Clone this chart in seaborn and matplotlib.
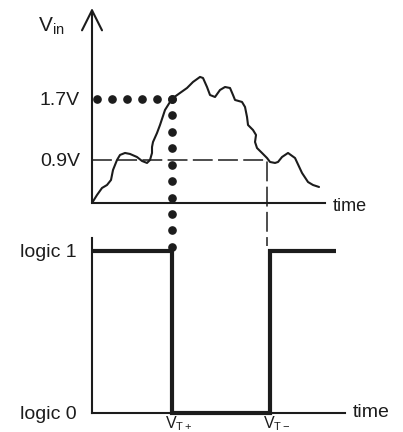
import numpy as np
import pandas as pd
import seaborn as sns
import matplotlib
matplotlib.use('Agg')
import matplotlib.pyplot as plt

# noisy input signal (time in arbitrary units, volts)
time_in = [0.0, 0.5, 1.0, 1.5, 1.9, 2.1, 2.5, 2.8, 3.3, 3.8, 4.5, 5.0, 5.5, 5.8,
           6.0, 6.0, 6.1, 6.5, 6.8, 7.3, 7.8, 8.1, 8.8, 9.5, 10.1, 10.8, 11.1,
           11.5, 11.8, 12.3, 12.8, 13.3, 13.8, 14.1, 14.3, 15.0, 15.3, 15.5,
           15.6, 16.1, 16.4, 16.3, 16.5, 17.0, 17.5, 17.8, 18.3, 18.6, 19.0,
           19.6, 20.3, 21.0, 21.6, 22.1, 22.7]
v_in = [0.336, 0.441, 0.533, 0.572, 0.638, 0.769, 0.900, 0.966, 0.992, 0.979,
        0.939, 0.887, 0.861, 0.900, 0.992, 1.070, 1.136, 1.254, 1.359, 1.556,
        1.661, 1.713, 1.779, 1.844, 1.923, 1.989, 1.975, 1.857, 1.752, 1.726,
        1.818, 1.857, 1.844, 1.752, 1.687, 1.661, 1.595, 1.464, 1.359, 1.293,
        1.228, 1.136, 1.057, 0.992, 0.926, 0.874, 0.861, 0.874, 0.939, 0.992,
        0.926, 0.730, 0.611, 0.572, 0.546]

# thresholds and switching points
v_hi, v_lo = 1.7, 0.9
t_up, t_dn = 8.0, 17.5
threshold_ticks = [v_lo, v_hi]
threshold_labels = ['0.9V', '1.7V']

# output logic levels
out_t = [0.0, 8.0, 8.0, 17.8, 17.8, 24.4]
out_level = [1, 1, 0, 0, 1, 1]
logic_ticks = [0, 1]
logic_labels = ['logic 0', 'logic 1']
vt_labels = [r'$\mathrm{V_{T+}}$', r'$\mathrm{V_{T-}}$']

sns.set_style('white')
plt.rcParams['font.family'] = ['Liberation Sans', 'DejaVu Sans']
plt.rcParams['mathtext.fontset'] = 'custom'
plt.rcParams['mathtext.rm'] = 'Liberation Sans'
plt.rcParams['mathtext.it'] = 'Liberation Sans:italic'
ink = '#1c1c1c'

fig = plt.figure(figsize=(4.03, 4.32), dpi=100)
fig.patch.set_facecolor('white')

# ---------------- input voltage
ax1 = fig.add_axes([0.2283, 0.5301, 0.5782, 0.4514])
ax1.set_facecolor('none')
df_in = pd.DataFrame({'t': time_in, 'v': v_in})
sns.lineplot(data=df_in, x='t', y='v', sort=False, estimator=None,
             color=ink, lw=1.5, ax=ax1)
ax1.set_xlim(0, 23.3)
ax1.set_ylim(0.336, 2.893)
for s in ['top', 'right', 'left']:
    ax1.spines[s].set_visible(False)
ax1.spines['bottom'].set_color(ink)
ax1.spines['bottom'].set_linewidth(1.5)
ax1.annotate('', xy=(0, 1), xytext=(0, 0), xycoords='axes fraction',
             arrowprops=dict(arrowstyle='->,head_length=0.72,head_width=0.36',
                             lw=1.5, color=ink, mutation_scale=20,
                             shrinkA=0, shrinkB=0))

# dotted upper threshold, running down into the output panel
dots_h = np.linspace(0.5, t_up, 6)
dots_v = np.linspace(v_hi, v_hi - 1.94, 10)
ax1.plot(dots_h, [v_hi] * len(dots_h), 'o', color=ink, ms=5.2, clip_on=False)
ax1.plot([t_up] * len(dots_v), dots_v, 'o', color=ink, ms=5.2, clip_on=False)

# dashed lower threshold
ax1.plot([0, t_dn, t_dn], [v_lo, v_lo, v_lo - 1.128], color=ink, lw=1.1,
         dashes=(13, 3.5), clip_on=False)

ax1.set_xticks([])
ax1.set_yticks(threshold_ticks, threshold_labels)
ax1.tick_params(axis='y', length=0, pad=8.6, labelsize=14, colors=ink)
ax1.set_xlabel('')
ax1.set_ylabel('')
ax1.annotate('time', xy=(1, 0), xycoords='axes fraction', xytext=(5.8, -5.8),
             textcoords='offset points', ha='left', va='baseline',
             fontsize=13, color=ink)
fig.text(38 / 403, 1 - 32 / 432, r'$\mathrm{V_{in}}$', fontsize=15,
         color=ink, ha='left', va='baseline')

# ---------------- output logic
ax2 = fig.add_axes([0.2283, 0.0440, 0.6278, 0.4051])
ax2.set_facecolor('none')
df_out = pd.DataFrame({'t': out_t, 'level': out_level})
sns.lineplot(data=df_out, x='t', y='level', sort=False, estimator=None,
             color=ink, lw=3.0, ax=ax2)
for ln in ax2.get_lines():
    ln.set_clip_on(False)
    ln.set_solid_joinstyle('miter')
    ln.set_solid_capstyle('butt')
ax2.set_xlim(0, 25.3)
ax2.set_ylim(0, 1.08)
for s in ['top', 'right']:
    ax2.spines[s].set_visible(False)
for s in ['left', 'bottom']:
    ax2.spines[s].set_color(ink)
    ax2.spines[s].set_linewidth(1.5)
ax2.set_xticks([])
ax2.set_yticks(logic_ticks, logic_labels)
ax2.tick_params(axis='y', length=0, pad=11, labelsize=14, colors=ink)
ax2.set_xlabel('')
ax2.set_ylabel('')
ax2.annotate('time', xy=(1, 0), xycoords='axes fraction', xytext=(5.8, -2.9),
             textcoords='offset points', ha='left', va='baseline',
             fontsize=14, color=ink)
for t, lab in zip([out_t[1], out_t[3]], vt_labels):
    ax2.annotate(lab, xy=(t, 0), xycoords=('data', 'axes fraction'),
                 xytext=(-5, -1.2), textcoords='offset points', ha='left',
                 va='top', fontsize=11.5, color=ink)

fig.savefig('out.png', dpi=100)
